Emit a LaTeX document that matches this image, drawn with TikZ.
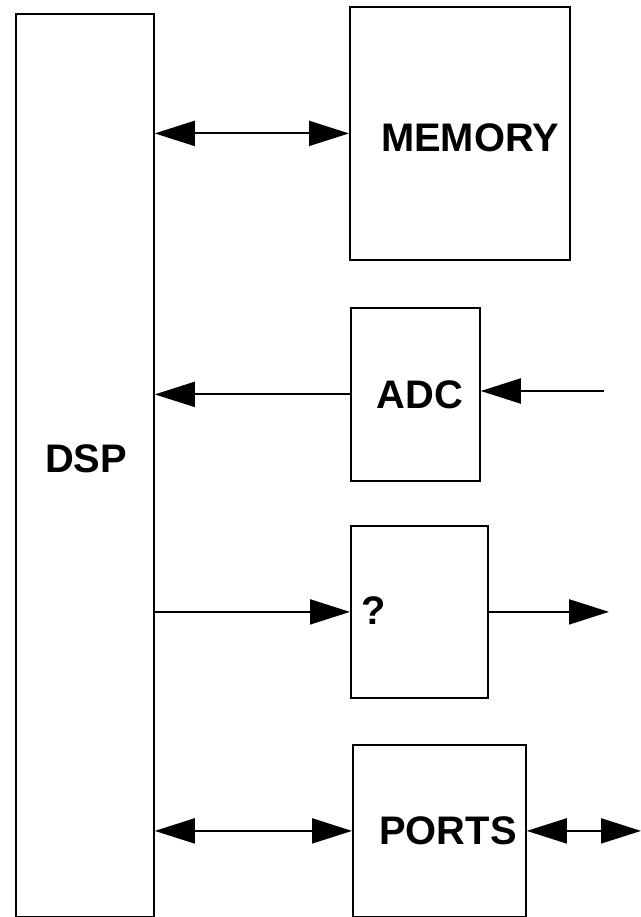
\documentclass[tikz,border=0pt]{standalone}
\usepackage{fontspec}
\setmainfont{Liberation Sans}
\usetikzlibrary{arrows.meta,calc}

\begin{document}
\begin{tikzpicture}[x=1bp,y=-1bp,
    blk/.style={draw,line width=1.8bp,rectangle,anchor=north west,inner sep=0pt},
    lbl/.style={font=\fontsize{40}{48}\selectfont\bfseries,inner sep=0pt},
    conn/.style={line width=2bp,-{Triangle[length=40bp,width=25bp]}},
    bconn/.style={line width=2bp,{Triangle[length=40bp,width=25bp]}-{Triangle[length=40bp,width=25bp]}}]
  \useasboundingbox (0,0) rectangle (641,917);
  % blocks
  \node[blk,minimum width=138bp,minimum height=903bp] (dsp) at (15,13) {};
  \node[blk,minimum width=220bp,minimum height=253bp] (mem) at (349,6) {};
  \node[blk,minimum width=129bp,minimum height=173bp] (adc) at (350,307) {};
  \node[blk,minimum width=137bp,minimum height=172bp] (unk) at (350,525) {};
  \node[blk,minimum width=173bp,minimum height=172bp] (ports) at (352,744) {};
  % labels
  \node[lbl] (dsptxt) at (86,459) {DSP};
  \node[lbl] (memtxt) at (470,138) {MEMORY};
  \node[lbl] (adctxt) at (420,395) {ADC};
  \node[lbl] (unktxt) at (374,611) {?};
  \node[lbl] (portstxt) at (448,831) {PORTS};
  % free ends
  \coordinate (ain) at (604,391);
  \coordinate (qout) at (609,607);
  \coordinate (pout) at (641,828);
  % connectors
  \draw[bconn] (dsp.east |- mem.west) -- (mem.west);
  \draw[conn] (adc.west) -- (dsp.east |- adc.west);
  \draw[conn] (ain) -- (adc.east |- ain);
  \draw[conn] (dsp.east |- unk.west) -- (unk.west);
  \draw[conn] (unk.east) -- (qout |- unk.east);
  \draw[bconn] (dsp.east |- ports.west) -- (ports.west);
  \draw[bconn] (ports.east) -- (pout |- ports.east);
\end{tikzpicture}
\end{document}
